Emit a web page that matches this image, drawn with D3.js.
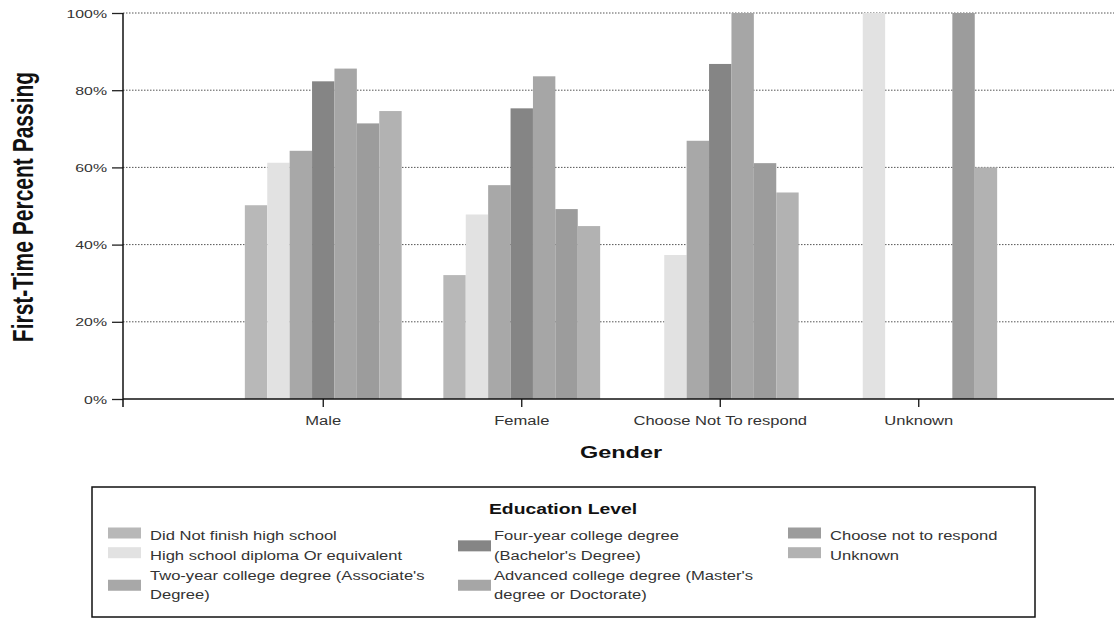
<!DOCTYPE html>
<html><head><meta charset="utf-8">
<script src="https://cdn.jsdelivr.net/npm/d3@7"></script>
<style>body{margin:0;background:#fff} svg{display:block}</style>
</head><body><svg id="chart" width="1114" height="618"></svg>
<script>
// ---- data ----
const categories = ["Male", "Female", "Choose Not To respond", "Unknown"];
const educationLevels = [
  "Did Not finish high school",
  "High school diploma Or equivalent",
  "Two-year college degree (Associate's Degree)",
  "Four-year college degree (Bachelor's Degree)",
  "Advanced college degree (Master's degree or Doctorate)",
  "Choose not to respond",
  "Unknown"
];
const maleValues      = [50.2, 61.2, 64.3, 82.3, 85.6, 71.4, 74.6];
const femaleValues    = [32.1, 47.8, 55.4, 75.3, 83.6, 49.2, 44.8];
const chooseNotValues = [null, 37.3, 66.9, 86.8, 100, 61.1, 53.5];
const unknownValues   = [null, 100, null, null, null, 100, 60];
const yTickValues = [0, 20, 40, 60, 80, 100];
const legendLabels = [
  ["Did Not finish high school"],
  ["High school diploma Or equivalent"],
  ["Two-year college degree (Associate's", "Degree)"],
  ["Four-year college degree", "(Bachelor's Degree)"],
  ["Advanced college degree (Master's", "degree or Doctorate)"],
  ["Choose not to respond"],
  ["Unknown"]
];

// ---- styles ----
const colors = ["#b8b8b8", "#e2e2e2", "#a8a8a8", "#858585", "#a6a6a6", "#9c9c9c", "#b2b2b2"];
const SX = 1.38; // horizontal stretch of the scanned text
const FONT = "'Liberation Sans', Arial, sans-serif";

const seriesByCategory = [maleValues, femaleValues, chooseNotValues, unknownValues];
const rows = [];
categories.forEach((c, ci) => educationLevels.forEach((e, ei) => {
  const v = seriesByCategory[ci][ei];
  if (v != null) rows.push({category: c, level: e, idx: ei, value: v});
}));

const svg = d3.select("#chart");
const W = 1114;
const axisX = 123, plotTop = 13, plotBottom = 399;

const y = d3.scaleLinear().domain([0, 100]).range([plotBottom, plotTop]);
const x0 = d3.scaleBand().domain(categories).range([224, 1018]).paddingInner(0);
const groupW = x0.bandwidth() * 0.79;
const x1 = d3.scaleBand().domain(educationLevels)
  .range([(x0.bandwidth() - groupW) / 2, (x0.bandwidth() + groupW) / 2]);
const color = d3.scaleOrdinal().domain(educationLevels).range(colors);

// gridlines
svg.append("g").selectAll("line").data(yTickValues.filter(d => d > 0)).join("line")
  .attr("x1", axisX).attr("x2", W)
  .attr("y1", d => y(d)).attr("y2", d => y(d))
  .attr("stroke", "#555").attr("stroke-width", 1)
  .attr("stroke-dasharray", "1.5,1.5");

// bars
svg.append("g").selectAll("rect").data(rows).join("rect")
  .attr("x", d => x0(d.category) + x1(d.level))
  .attr("width", x1.bandwidth())
  .attr("y", d => y(d.value))
  .attr("height", d => y(0) - y(d.value))
  .attr("fill", d => color(d.level));

// y axis
const yAxis = svg.append("g").attr("transform", `translate(${axisX},0)`)
  .call(d3.axisLeft(y).tickValues(yTickValues).tickFormat(d => d + "%").tickSize(11).tickSizeOuter(0));
yAxis.select(".domain").remove();
yAxis.selectAll(".tick line").attr("stroke", "#222").attr("stroke-width", 1.3);
yAxis.selectAll(".tick text")
  .attr("x", -16 / SX).attr("dy", "0.35em")
  .attr("transform", `scale(${SX},1)`)
  .attr("fill", "#333").style("font", `11.5px ${FONT}`);
svg.append("line").attr("x1", axisX).attr("x2", axisX)
  .attr("y1", plotTop).attr("y2", plotBottom + 8)
  .attr("stroke", "#111").attr("stroke-width", 1.5);

// x axis
const xAxis = svg.append("g").attr("transform", `translate(0,${plotBottom})`)
  .call(d3.axisBottom(x0).tickSize(8).tickSizeOuter(0));
xAxis.select(".domain").remove();
xAxis.selectAll(".tick line").attr("stroke", "#111").attr("stroke-width", 1.3);
xAxis.selectAll(".tick text")
  .attr("y", 26).attr("dy", 0)
  .attr("transform", `scale(${SX},1)`)
  .attr("fill", "#333").style("font", `12px ${FONT}`);
svg.append("line").attr("x1", axisX).attr("x2", W)
  .attr("y1", plotBottom).attr("y2", plotBottom)
  .attr("stroke", "#111").attr("stroke-width", 1.5);

// axis titles
svg.append("g").attr("transform", `translate(621,458)`)
  .append("text").attr("text-anchor", "middle")
  .attr("transform", `scale(${SX},1)`)
  .style("font", `bold 17px ${FONT}`).attr("fill", "#111").text("Gender");
svg.append("g").attr("transform", `translate(23,207) rotate(-90)`)
  .append("text").attr("text-anchor", "middle").attr("dy", "0.35em")
  .attr("transform", `scale(1,${SX})`)
  .style("font", `bold 21px ${FONT}`).attr("fill", "#111").text("First-Time Percent Passing");

// legend
const lg = svg.append("g");
lg.append("rect").attr("x", 92).attr("y", 487).attr("width", 943).attr("height", 130)
  .attr("fill", "none").attr("stroke", "#111").attr("stroke-width", 1.5);
lg.append("g").attr("transform", "translate(563,514)")
  .append("text").attr("text-anchor", "middle").attr("transform", `scale(${SX},1)`)
  .style("font", `bold 14px ${FONT}`).attr("fill", "#111").text("Education Level");

const swatchX = [108, 458, 788], textX = [150, 494, 830];
const rowY0 = 536, rowH = 19.7, maxRows = 4;
let col = 0, row = 0;
legendLabels.forEach((lines, i) => {
  if (row + lines.length > maxRows) { col++; row = 0; }
  const centers = lines.map((l, k) => rowY0 + (row + k) * rowH);
  const mid = d3.mean(centers) - (lines.length === 1 ? 3 : 0);
  lg.append("rect").attr("x", swatchX[col]).attr("y", mid - 5.5)
    .attr("width", 33).attr("height", 11).attr("fill", colors[i]);
  lines.forEach((l, k) => {
    lg.append("g").attr("transform", `translate(${textX[col]},${centers[k]})`)
      .append("text").attr("dy", "0.35em").attr("transform", `scale(${SX},1)`)
      .style("font", `12px ${FONT}`).attr("fill", "#333").text(l);
  });
  row += lines.length;
});
</script></body></html>
